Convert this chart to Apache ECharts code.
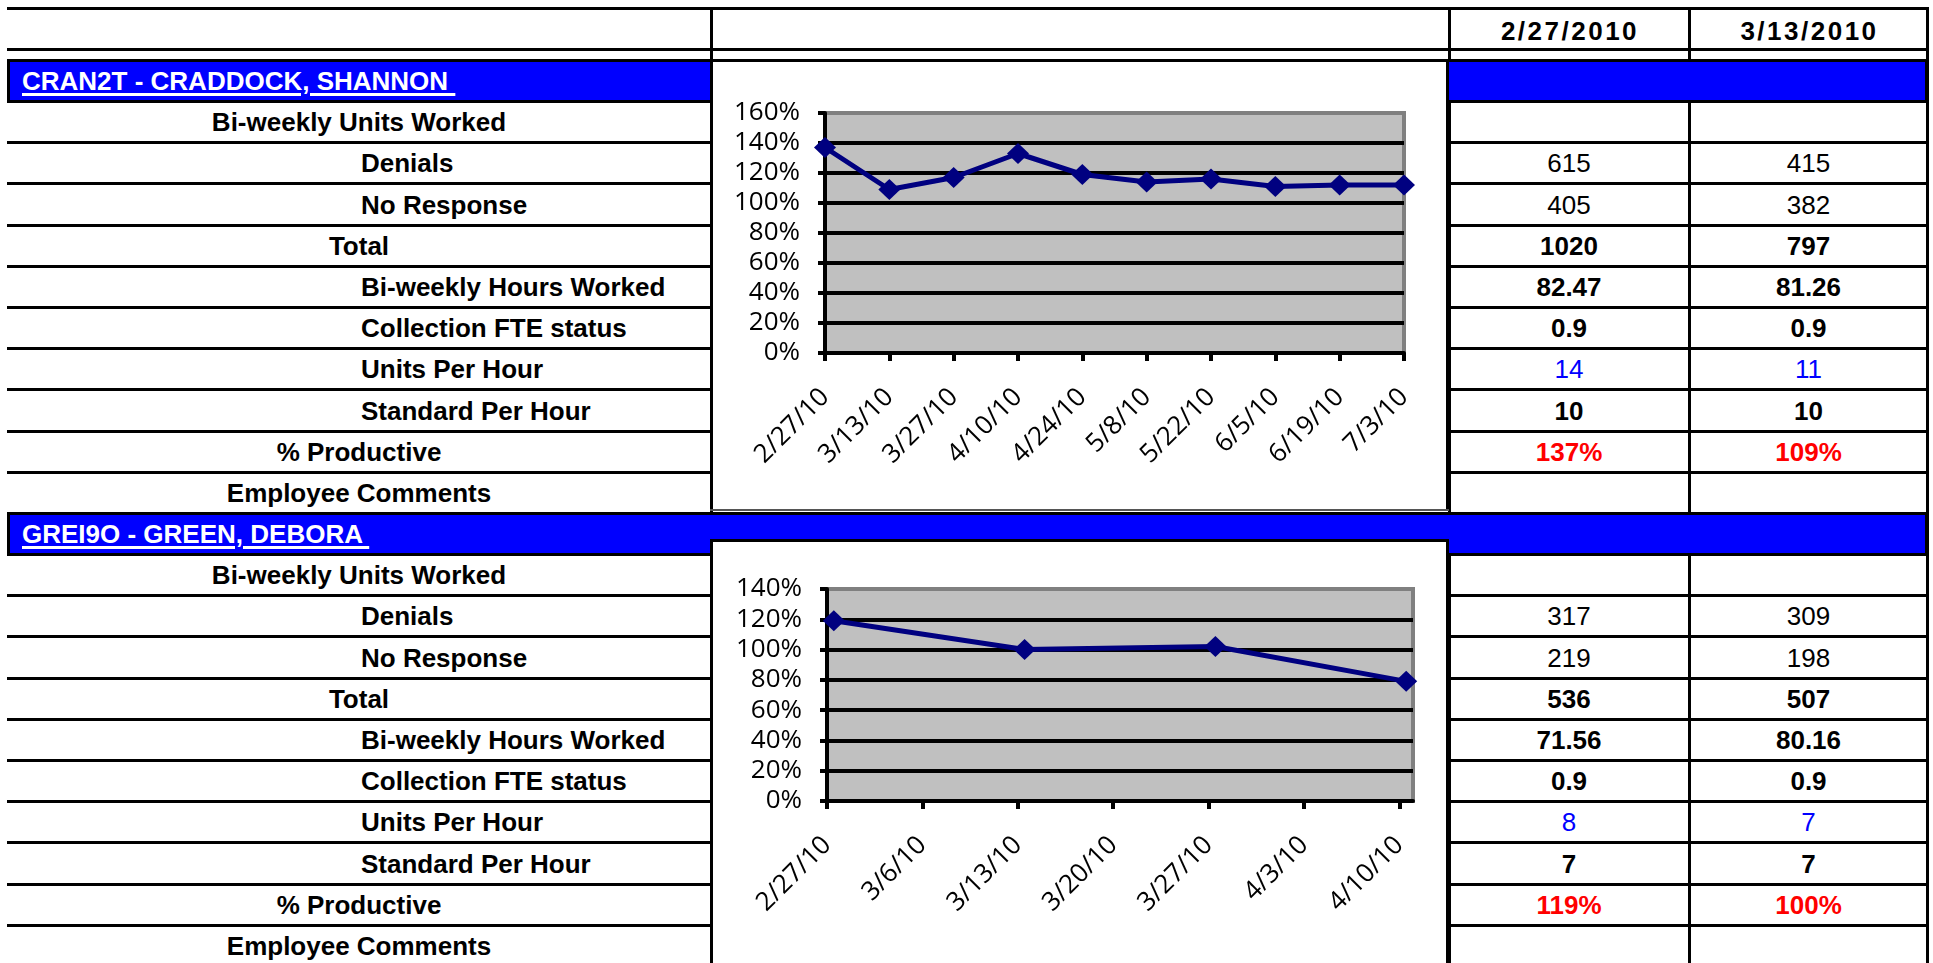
<!DOCTYPE html>
<html>
<head>
<meta charset="utf-8">
<script src="https://cdn.jsdelivr.net/npm/echarts@6/dist/echarts.min.js"></script>
<style>
  html, body { margin: 0; padding: 0; background: #fff; }
  #page {
    position: relative; width: 1933px; height: 963px; overflow: hidden;
    font-family: "Liberation Sans", Arial, sans-serif; color: #000;
  }
  .r { position: absolute; }
  .t { position: absolute; white-space: pre; font-size: 26px; line-height: 30px; }
  .chart { position: absolute; background: #fff; }
</style>
</head>
<body>
<div id="page"></div>
<script>
// ---- table data ----
const dateHeaders = ['2/27/2010', '3/13/2010'];
const rowLabels = [
  'Bi-weekly Units Worked', 'Denials', 'No Response', 'Total',
  'Bi-weekly Hours Worked', 'Collection FTE status', 'Units Per Hour',
  'Standard Per Hour', '% Productive', 'Employee Comments'
];
const indentedRows = [1, 2, 4, 5, 6, 7];
const emp1Name = 'CRAN2T - CRADDOCK, SHANNON ';
const emp1Week1 = ['', '615', '405', '1020', '82.47', '0.9', '14', '10', '137%', ''];
const emp1Week2 = ['', '415', '382', '797', '81.26', '0.9', '11', '10', '109%', ''];
const emp2Name = 'GREI9O - GREEN, DEBORA ';
const emp2Week1 = ['', '317', '219', '536', '71.56', '0.9', '8', '7', '119%', ''];
const emp2Week2 = ['', '309', '198', '507', '80.16', '0.9', '7', '7', '100%', ''];

// ---- chart data ----
const chart1Dates = ['2/27/10', '3/13/10', '3/27/10', '4/10/10', '4/24/10', '5/8/10', '5/22/10', '6/5/10', '6/19/10', '7/3/10'];
const chart1Values = [137, 109, 117, 133, 119, 114, 116, 111, 112, 112];
const chart2Ticks = ['2/27/10', '3/6/10', '3/13/10', '3/20/10', '3/27/10', '4/3/10', '4/10/10'];
const chart2Dates = ['2/27/10', '3/13/10', '3/27/10', '4/10/10'];
const chart2Values = [119, 100, 102, 79];

const page = document.getElementById('page');

function rect(x, y, w, h, color, z) {
  const d = document.createElement('div');
  d.className = 'r';
  d.style.cssText += `left:${x}px;top:${y}px;width:${w}px;height:${h}px;background:${color};z-index:${z || 1}`;
  page.appendChild(d);
  return d;
}

function text(str, x, cy, opts) {
  opts = opts || {};
  const d = document.createElement('div');
  d.className = 't';
  d.textContent = str;
  d.style.top = (cy - 15) + 'px';
  d.style.left = x + 'px';
  if (opts.center) d.style.transform = 'translateX(-50%)';
  d.style.fontWeight = opts.bold ? 'bold' : 'normal';
  d.style.color = opts.color || '#000';
  d.style.zIndex = 5;
  if (opts.spacing) d.style.letterSpacing = opts.spacing;
  if (opts.underline) {
    d.style.textDecoration = 'underline';
    d.style.textDecorationThickness = '3px';
    d.style.textUnderlineOffset = '3px';
  }
  page.appendChild(d);
}

const LEFT = 7, RIGHT = 1928, COL_CHART = 711, COL_A = 1449, COL_B = 1689;
const ROW_H = 41.2;

// header row
rect(LEFT, 7, RIGHT - LEFT, 3, '#000', 3);
rect(LEFT, 48, RIGHT - LEFT, 3, '#000', 3);
text(dateHeaders[0], (COL_A + COL_B) / 2 + 1, 31, {center: true, bold: true, spacing: '2.5px'});
text(dateHeaders[1], (COL_B + RIGHT) / 2 + 1, 31, {center: true, bold: true, spacing: '2.5px'});

// column lines
[COL_CHART, COL_A, COL_B, RIGHT - 1].forEach(x => rect(x - 1.5, 7, 3, 970, '#000', 1));

function valueStyle(i) {
  if (i === 6) return {color: '#0000FF'};
  if (i === 8) return {color: '#FF0000', bold: true};
  if (i === 1 || i === 2) return {};
  return {bold: true};
}

function block(top, name, colA, colB) {
  // blue employee bar
  rect(LEFT, top, RIGHT - LEFT, 44, '#000', 2);
  rect(LEFT + 3, top + 3, RIGHT - LEFT - 6, 38, '#0000FF', 2);
  text(name, 22, top + 22, {bold: true, color: '#fff', underline: true});
  const rowTop = top + 42.5;
  rowLabels.forEach((lab, i) => {
    const cy = rowTop + ROW_H * i + ROW_H / 2;
    const yl = rowTop + ROW_H * (i + 1) - 1.5;
    rect(LEFT, yl, COL_CHART - LEFT, 3, '#000', 3);
    rect(COL_A, yl, RIGHT - COL_A, 3, '#000', 3);
    if (indentedRows.includes(i)) text(lab, 361, cy, {bold: true});
    else text(lab, 359, cy, {center: true, bold: true});
    const st = valueStyle(i);
    if (colA[i]) text(colA[i], (COL_A + COL_B) / 2, cy, Object.assign({center: true}, st));
    if (colB[i]) text(colB[i], (COL_B + RIGHT) / 2, cy, Object.assign({center: true}, st));
  });
}

block(59, emp1Name, emp1Week1, emp1Week2);
block(512, emp2Name, emp2Week1, emp2Week2);

function chartBox(x, y, w, h) {
  const d = document.createElement('div');
  d.className = 'chart';
  d.style.cssText += `left:${x}px;top:${y}px;width:${w}px;height:${h}px;z-index:6`;
  page.appendChild(d);
  // outline drawn on top
  rect(x, y, w, 3, '#000', 7);
  rect(x, y, 3, h, '#000', 7);
  rect(x + w - 3, y, 3, h, '#000', 7);
  rect(x, y + h - 2, w, 2, '#555', 7);
  return d;
}

const FONT = '"Open Sans", "Liberation Sans", Arial, sans-serif';
const NAVY = '#000080';

function yAxisOpt(max) {
  const n = max / 20 + 1;
  const colors = [];
  for (let i = 0; i < n; i++) colors.push(i === n - 1 ? 'rgba(0,0,0,0)' : '#000');
  return {
    type: 'value', min: 0, max: max, interval: 20,
    axisLine: {show: true, lineStyle: {color: '#000', width: 4}},
    axisTick: {show: true, inside: false, length: 7, lineStyle: {color: '#000', width: 4}},
    axisLabel: {formatter: '{value}%', color: '#000', fontSize: 26, fontFamily: FONT, margin: 25},
    splitLine: {show: true, lineStyle: {color: colors, width: 4}}
  };
}

const gridStyle = {show: true, backgroundColor: '#C0C0C0', borderColor: '#808080', borderWidth: 4};
const xLabel = {rotate: 45, color: '#000', fontSize: 26, fontFamily: FONT, margin: 40, interval: 0};
const lineSeries = {
  type: 'line', symbol: 'diamond', symbolSize: [22, 21],
  itemStyle: {color: NAVY}, lineStyle: {color: NAVY, width: 5}
};

// chart 1
const c1 = echarts.init(chartBox(710, 59, 739, 452), null, {renderer: 'canvas'});
c1.setOption({
  animation: false,
  grid: Object.assign({left: 115, top: 54, width: 579, height: 240}, gridStyle),
  xAxis: {
    type: 'category', boundaryGap: false, data: chart1Dates,
    axisLine: {lineStyle: {color: '#000', width: 4}},
    axisTick: {length: 8, lineStyle: {color: '#000', width: 4}},
    axisLabel: xLabel
  },
  yAxis: yAxisOpt(160),
  series: [Object.assign({data: chart1Values}, lineSeries)]
});

// chart 2: weekly date axis, points centred in their day as Excel does
function dayNum(s) {
  const p = s.split('/').map(Number);
  return Date.UTC(2000 + p[2], p[0] - 1, p[1]) / 86400000;
}
const day0 = dayNum(chart2Ticks[0]);
const tickDays = chart2Ticks.map(s => dayNum(s) - day0);
const c2 = echarts.init(chartBox(710, 539, 739, 440), null, {renderer: 'canvas'});
c2.setOption({
  animation: false,
  grid: Object.assign({left: 117, top: 50, width: 586, height: 212}, gridStyle),
  xAxis: {
    type: 'value', min: 0, max: tickDays[tickDays.length - 1] + 1,
    axisLine: {lineStyle: {color: '#000', width: 4}},
    axisTick: {length: 8, lineStyle: {color: '#000', width: 4}, customValues: tickDays},
    axisLabel: Object.assign({}, xLabel, {
      customValues: tickDays,
      formatter: v => chart2Ticks[tickDays.indexOf(v)] || ''
    }),
    splitLine: {show: false}
  },
  yAxis: yAxisOpt(140),
  series: [Object.assign({
    data: chart2Dates.map((d, i) => [dayNum(d) - day0 + 0.5, chart2Values[i]])
  }, lineSeries)]
});
</script>
</body>
</html>
